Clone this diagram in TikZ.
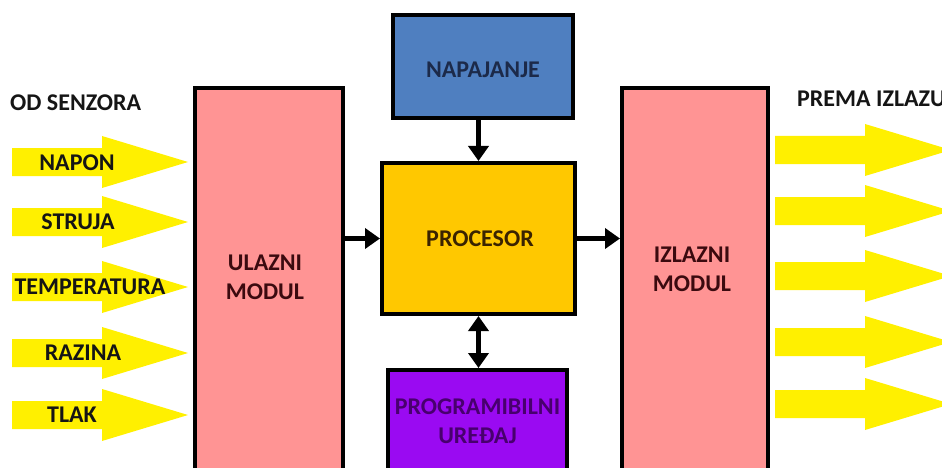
\documentclass[tikz,border=0pt]{standalone}
\usepackage{fontspec}
\setmainfont{Carlito}
\usetikzlibrary{arrows.meta,calc}
\definecolor{pinkbox}{HTML}{FF9494}
\definecolor{bluebox}{HTML}{4F7FC0}
\definecolor{procbox}{HTML}{FFC800}
\definecolor{purplebox}{HTML}{9A0AF2}
\definecolor{yarr}{HTML}{FFF000}
\definecolor{txtdark}{HTML}{151515}
\definecolor{txtpink}{HTML}{3B0A0F}
\definecolor{txtblue}{HTML}{1C2A4A}
\definecolor{txtproc}{HTML}{3A2300}
\definecolor{txtpurple}{HTML}{48006E}
\tikzset{
  box/.style={draw=black, line width=4pt, inner sep=0pt},
  lbl/.style={font=\fontsize{24}{29}\selectfont\bfseries, align=center, inner sep=0pt},
  conn/.style={line width=5pt, -{Triangle[width=20pt,length=15pt]}},
  conn2/.style={line width=5pt, {Triangle[width=20pt,length=15pt]}-{Triangle[width=20pt,length=15pt]}},
  yarrow/.pic={\fill[yarr] (0,-14) -- (90,-14) -- (90,-26) -- (176,0) -- (90,26) -- (90,14) -- (0,14) -- cycle;}
}
\begin{document}
\begin{tikzpicture}[x=1pt,y=-1pt]
\useasboundingbox (0,0) rectangle (942,468);
\fill[white] (0,0) rectangle (942,468);
\begin{scope}
\clip (0,0) rectangle (942,468);
% boxes
\node[box, fill=pinkbox, minimum width=148pt, minimum height=400pt] (ulaz) at (269,288) {};
\node[box, fill=pinkbox, minimum width=146pt, minimum height=400pt] (izlaz) at (695,288) {};
\node[box, fill=bluebox, minimum width=180pt, minimum height=103pt] (napaj) at (483,66.5) {};
\node[box, fill=procbox, minimum width=193pt, minimum height=151pt] (proc) at (478.5,238.5) {};
\node[box, fill=purplebox, minimum width=179pt, minimum height=130pt] (prog) at (477.5,435) {};
% labels in boxes
\node[lbl, text=txtpink] (ulazl) at (265,277) {ULAZNI\\MODUL};
\node[lbl, text=txtpink] (izlazl) at (692,269) {IZLAZNI\\MODUL};
\node[lbl, text=txtblue] (napajl) at (483,70) {NAPAJANJE};
\node[lbl, text=txtproc] (procl) at (480,239) {PROCESOR};
\node[lbl, text=txtpurple] (progl) at (477.5,421) {PROGRAMIBILNI\\UREĐAJ};
% connectors
\draw[conn] (napaj.south -| proc.north) -- (proc.north);
\draw[conn] (ulaz.east |- proc.west) -- (proc.west);
\draw[conn] (proc.east) -- (izlaz.west |- proc.east);
\draw[conn2] (proc.south) -- (prog.north -| proc.south);
% left yellow arrows
\foreach \yy in {162,222,287,353,415} { \pic at (12,\yy) {yarrow}; }
% right yellow arrows
\foreach \yy in {150,211,276,342,404} { \pic at (775,\yy) {yarrow}; }
% arrow labels
\node[lbl, text=txtdark] (napon) at (77,163) {NAPON};
\node[lbl, text=txtdark] (struja) at (78,222) {STRUJA};
\node[lbl, text=txtdark] (temp) at (90,287) {TEMPERATURA};
\node[lbl, text=txtdark] (razina) at (83,353) {RAZINA};
\node[lbl, text=txtdark] (tlak) at (72,415) {TLAK};
\node[lbl, text=txtdark, anchor=west] (odsen) at (10,103) {OD SENZORA};
\node[lbl, text=txtdark, anchor=west] (prema) at (797,99) {PREMA IZLAZU};
\end{scope}
\end{tikzpicture}
\end{document}
